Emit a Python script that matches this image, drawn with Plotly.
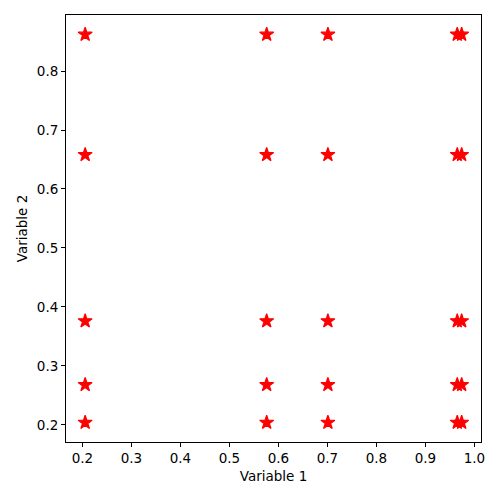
import itertools

import plotly.graph_objects as go

var1_levels = [0.2055, 0.576, 0.701, 0.965, 0.974]
var2_levels = [0.204, 0.268, 0.376, 0.658, 0.862]

# every combination of the two variables
pairs = list(itertools.product(var1_levels, var2_levels))
x_vals = [p[0] for p in pairs]
y_vals = [p[1] for p in pairs]

fig = go.Figure()
fig.add_trace(
    go.Scatter(
        x=x_vals,
        y=y_vals,
        mode='markers',
        marker=dict(symbol='star', size=10.5, color='red', line=dict(width=1.2, color='red')),
        showlegend=False
    )
)

axis_style = dict(
    showgrid=False,
    zeroline=False,
    showline=True,
    linecolor='black',
    linewidth=1,
    mirror=True,
    ticks='outside',
    ticklen=4,
    tickcolor='black',
    automargin=False,
    tickfont=dict(family='DejaVu Sans', size=13.5, color='black'),
)

fig.update_xaxes(
    title=dict(text='Variable 1', font=dict(family='DejaVu Sans', size=13.5, color='black'), standoff=6),
    range=[0.1664, 1.0135],
    tickvals=[0.2, 0.3, 0.4, 0.5, 0.6, 0.7, 0.8, 0.9, 1.0],
    ticktext=['0.2', '0.3', '0.4', '0.5', '0.6', '0.7', '0.8', '0.9', '1.0'],
    **axis_style
)
fig.update_yaxes(
    title=dict(text='Variable 2', font=dict(family='DejaVu Sans', size=13.5, color='black'), standoff=6),
    range=[0.171, 0.895],
    tickvals=[0.2, 0.3, 0.4, 0.5, 0.6, 0.7, 0.8],
    ticktext=['0.2', '0.3', '0.4', '0.5', '0.6', '0.7', '0.8'],
    **axis_style
)

fig.update_layout(
    width=500,
    height=500,
    template='plotly_white',
    plot_bgcolor='white',
    paper_bgcolor='white',
    margin=dict(l=66, r=19, t=15, b=58),
)

# drop the browser's default body margin so the figure sits at the page corner
fig.write_html(
    "out.html",
    config={'displayModeBar': False},
    post_script="document.body.style.margin='0';"
)
